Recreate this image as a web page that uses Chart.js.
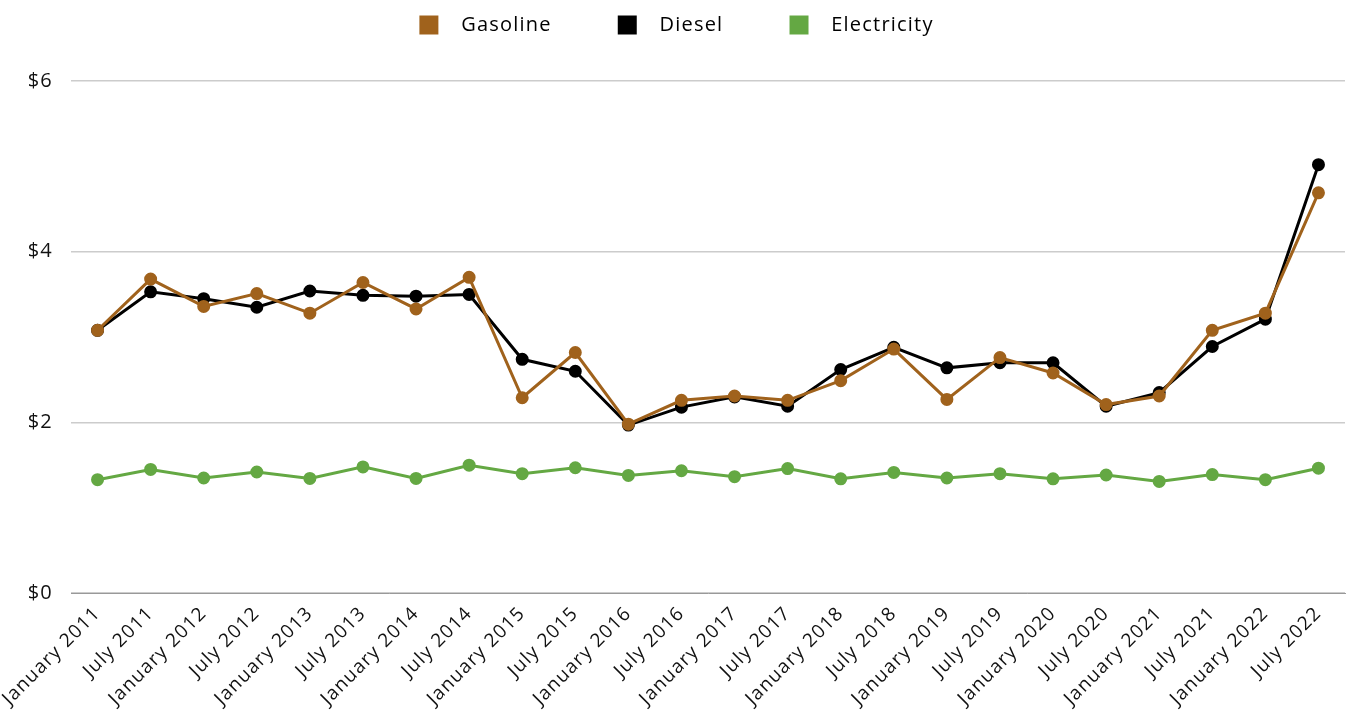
<!DOCTYPE html>
<html>
<head>
<meta charset="utf-8">
<script src="https://cdn.jsdelivr.net/npm/chart.js@4/dist/chart.umd.min.js"></script>
<style>
  html, body { margin:0; padding:0; background:#fff; overflow:hidden; }
  #wrap { width:1353px; height:721px; position:relative; }
  #wrap canvas { display:block; }
</style>
</head>
<body>
<div id="wrap"><canvas id="fuelChart"></canvas></div>
<script>
// Fuel cost per gallon-equivalent, half-yearly
const LABELS = [
  'January 2011','July 2011','January 2012','July 2012','January 2013','July 2013',
  'January 2014','July 2014','January 2015','July 2015','January 2016','July 2016',
  'January 2017','July 2017','January 2018','July 2018','January 2019','July 2019',
  'January 2020','July 2020','January 2021','July 2021','January 2022','July 2022'
];
const GASOLINE = [3.08,3.68,3.36,3.51,3.28,3.64,3.33,3.70,2.29,2.82,1.98,2.26,
                  2.31,2.26,2.49,2.86,2.27,2.76,2.58,2.21,2.31,3.08,3.28,4.69];
const DIESEL   = [3.08,3.53,3.45,3.35,3.54,3.49,3.48,3.50,2.74,2.60,1.97,2.18,
                  2.30,2.19,2.62,2.88,2.64,2.70,2.70,2.19,2.35,2.89,3.21,5.02];
const ELECTRIC = [1.33,1.45,1.35,1.42,1.345,1.48,1.345,1.50,1.40,1.47,1.38,1.435,
                  1.365,1.46,1.34,1.415,1.35,1.40,1.34,1.385,1.31,1.39,1.33,1.465];
const Y_TICKS = [0, 2, 4, 6];

const FONT = "'Open Sans', 'Noto Sans', sans-serif";

// wider letter spacing, the original uses a broad geometric face
const spacing = {
  id: 'spacing',
  beforeLayout(chart) { chart.ctx.letterSpacing = '1.2px'; },
  beforeDraw(chart) { chart.ctx.letterSpacing = '1.2px'; }
};

const series = (label, data, color) => ({
  label, data,
  borderColor: color, backgroundColor: color,
  pointBackgroundColor: color, pointBorderColor: color,
  borderWidth: 3, pointRadius: 5, pointHoverRadius: 5, tension: 0
});

new Chart(document.getElementById('fuelChart'), {
  type: 'line',
  data: {
    labels: LABELS,
    datasets: [
      series('Gasoline', GASOLINE, '#A0621C'),
      series('Diesel', DIESEL, '#000000'),
      series('Electricity', ELECTRIC, '#64A843')
    ]
  },
  plugins: [spacing],
  options: {
    responsive: true, maintainAspectRatio: false, animation: false,
    layout: { padding: { top: 0, right: 0, left: 0, bottom: 2 } },
    plugins: {
      tooltip: { enabled: false },
      legend: {
        position: 'top', weight: 3000,
        labels: {
          color: '#111', boxWidth: 19, boxHeight: 19, padding: 15,
          font: { family: FONT, size: 20, weight: '500' },
          generateLabels: chart => chart.data.datasets.map((d, i) => ({
            text: '  ' + d.label + (i < 2 ? '        ' : ''),
            fillStyle: d.borderColor, strokeStyle: d.borderColor,
            lineWidth: 0, datasetIndex: i
          }))
        }
      },
      // empty spacer between legend and plot
      subtitle: { display: true, text: '', padding: { top: 12, bottom: 0 }, font: { size: 20 } }
    },
    scales: {
      x: {
        offset: true,
        afterFit: s => { s.paddingLeft = 0; s.paddingRight = 0; },
        grid: { display: false, drawTicks: false },
        border: { display: true, color: '#999', width: 1 },
        ticks: {
          color: '#111', minRotation: 45, maxRotation: 45, autoSkip: false, padding: 9,
          font: { family: FONT, size: 19, weight: '500' }
        }
      },
      y: {
        min: 0, max: 6,
        afterFit: s => { s.width = 71; },
        afterBuildTicks: axis => { axis.ticks = Y_TICKS.map(v => ({ value: v })); },
        grid: { color: '#cccccc', lineWidth: 1.5, drawTicks: false },
        border: { display: false },
        ticks: {
          color: '#111', padding: 18,
          font: { family: FONT, size: 20, weight: '500' },
          callback: v => '$' + v
        }
      }
    }
  }
});
</script>
</body>
</html>
